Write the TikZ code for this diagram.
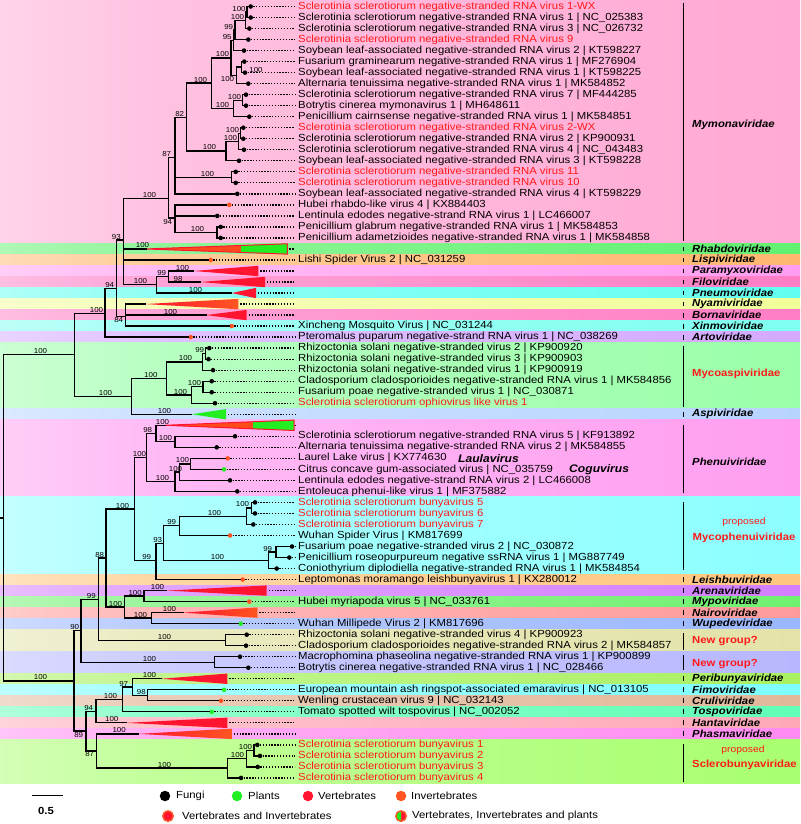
\documentclass[tikz,border=0pt]{standalone}
\usepackage{fontspec}
\setmainfont{Liberation Sans}[FakeStretch=1.1]
\usepackage{tikz}

\definecolor{vred}{HTML}{FF1530}
\definecolor{iorange}{HTML}{FF5522}
\definecolor{ired}{HTML}{FF4A1C}
\definecolor{pgreen}{HTML}{22EE22}
\definecolor{tred}{HTML}{FF1A1A}
% band colours
\definecolor{cMymo}{HTML}{FF99CC}
\definecolor{cRhab}{HTML}{44EE55}
\definecolor{cLisp}{HTML}{FFAA55}
\definecolor{cPara}{HTML}{FF8CEE}
\definecolor{cFilo}{HTML}{FF66BB}
\definecolor{cPneu}{HTML}{44FFEE}
\definecolor{cNyam}{HTML}{EEFF88}
\definecolor{cBorn}{HTML}{FF66BB}
\definecolor{cXinm}{HTML}{66FFEE}
\definecolor{cArto}{HTML}{CC99FF}
\definecolor{cMyas}{HTML}{88FF99}
\definecolor{cAspi}{HTML}{AACCFF}
\definecolor{cPhen}{HTML}{FF8CEE}
\definecolor{cMyph}{HTML}{77FFFF}
\definecolor{cLeis}{HTML}{FFBB66}
\definecolor{cAren}{HTML}{CC66FF}
\definecolor{cMypo}{HTML}{55EE55}
\definecolor{cNair}{HTML}{FF8888}
\definecolor{cWupe}{HTML}{88AAFF}
\definecolor{cNgA}{HTML}{DDDD99}
\definecolor{cNgB}{HTML}{AAAAFF}
\definecolor{cPeri}{HTML}{99EE44}
\definecolor{cFimo}{HTML}{66FFFF}
\definecolor{cCrul}{HTML}{DDAA88}
\definecolor{cTosp}{HTML}{44FFAA}
\definecolor{cHant}{HTML}{FF99AA}
\definecolor{cPhas}{HTML}{FF77EE}
\definecolor{cScle}{HTML}{99FF55}

\colorlet{bandcol}{white}
\pgfdeclarehorizontalshading[bandcol]{bandfade}{100bp}{color(0bp)=(white); color(35bp)=(bandcol!60!white); color(100bp)=(bandcol)}

\newcommand{\tipfont}{\fontsize{10.3}{11}\selectfont}
\newcommand{\bsfont}{\fontsize{7.2}{8}\selectfont}

\tikzset{
  br/.style={line width=1.3pt, line cap=rect},
  lead/.style={line width=1.3pt, dash pattern=on 1.3pt off 1.6pt, shorten >=3pt},
  dotf/.style={circle, inner sep=0pt, minimum size=4.6pt, fill=black},
  dotp/.style={dotf, fill=pgreen},
  doti/.style={dotf, fill=iorange},
  lbl/.style={anchor=west, inner sep=0pt, font=\tipfont},
  lblr/.style={lbl, text=tred},
  bs/.style={anchor=south east, inner sep=0.7pt, font=\bsfont},
  bsb/.style={anchor=north east, inner sep=0.7pt, font=\bsfont},
  fam/.style={anchor=west, inner sep=0pt, font=\tipfont\bfseries\itshape},
  famr/.style={anchor=west, inner sep=0pt, font=\tipfont\bfseries, text=tred},
  prop/.style={inner sep=0pt, font=\fontsize{9.4}{10}\selectfont, text=tred},
  bar/.style={line width=1.3pt},
  legdot/.style={circle, inner sep=0pt, minimum size=10.5pt},
}

% family band, tip with dot and label, collapsed clade
\newcommand{\band}[3]{\colorlet{bandcol}{#3}\shade[shading=bandfade] (0,#1) rectangle (800,#2);}
\newcommand{\tip}[6][lbl]{%
  \node[#5] (#2) at (#3,#4) {};
  \node[#1] (#2l) at (298,#4) {#6};
  \draw[lead] (#2) -- (#2l.west);}
\newcommand{\clade}[5]{%
  \coordinate (#1) at (#2,#4);
  \path[#5] (#1) -- (#3,#4-0.47) -- (#3,#4+0.47) -- cycle;
  \coordinate (#1e) at (#3,#4);
  \draw[lead, shorten <=2pt] (#1e) -- (298,#4);}

\begin{document}
\begin{tikzpicture}[x=1pt, y=-11.02pt]
\useasboundingbox (0,0.41) rectangle (800,75.18);
\fill[white] (0,0.41) rectangle (800,75.18);

% background bands
\band{0.41}{22.5}{cMymo}
\band{22.5}{23.5}{cRhab}
\band{23.5}{24.5}{cLisp}
\band{24.5}{25.5}{cPara}
\band{25.5}{26.5}{cFilo}
\band{26.5}{27.5}{cPneu}
\band{27.5}{28.5}{cNyam}
\band{28.5}{29.5}{cBorn}
\band{29.5}{30.5}{cXinm}
\band{30.5}{31.5}{cArto}
\band{31.5}{37.5}{cMyas}
\band{37.5}{38.5}{cAspi}
\band{38.5}{45.5}{cPhen}
\band{45.5}{52.5}{cMyph}
\band{52.5}{53.5}{cLeis}
\band{53.5}{54.5}{cAren}
\band{54.5}{55.5}{cMypo}
\band{55.5}{56.5}{cNair}
\band{56.5}{57.5}{cWupe}
\band{57.5}{59.5}{cNgA}
\band{59.5}{61.5}{cNgB}
\band{61.5}{62.5}{cPeri}
\band{62.5}{63.5}{cFimo}
\band{63.5}{64.5}{cCrul}
\band{64.5}{65.5}{cTosp}
\band{65.5}{66.5}{cHant}
\band{66.5}{67.5}{cPhas}
\band{67.5}{71.5}{cScle}

% tips
\tip[lblr]{t1}{250.7}{1}{dotf}{Sclerotinia sclerotiorum negative-stranded RNA virus 1-WX}
\tip{t2}{250.7}{2}{dotf}{Sclerotinia sclerotiorum negative-stranded RNA virus 1 | NC\_025383}
\tip{t3}{249.3}{3}{dotf}{Sclerotinia sclerotiorum negative-stranded RNA virus 3 | NC\_026732}
\tip[lblr]{t4}{248.3}{4}{dotf}{Sclerotinia sclerotiorum negative-stranded RNA virus 9}
\tip{t5}{244}{5}{dotf}{Soybean leaf-associated negative-stranded RNA virus 2 | KT598227}
\tip{t6}{244.3}{6}{dotf}{Fusarium graminearum negative-stranded RNA virus 1 | MF276904}
\tip{t7}{245}{7}{dotf}{Soybean leaf-associated negative-stranded RNA virus 1 | KT598225}
\tip{t8}{248.3}{8}{dotf}{Alternaria tenuissima negative-stranded RNA virus 1 | MK584852}
\tip{t9}{246}{9}{dotf}{Sclerotinia sclerotiorum negative-stranded RNA virus 7 | MF444285}
\tip{t10}{246}{10}{dotf}{Botrytis cinerea mymonavirus 1 | MH648611}
\tip{t11}{249.3}{11}{dotf}{Penicillium cairnsense negative-stranded RNA virus 1 | MK584851}
\tip[lblr]{t12}{243.3}{12}{dotf}{Sclerotinia sclerotiorum negative-stranded RNA virus 2-WX}
\tip{t13}{243.3}{13}{dotf}{Sclerotinia sclerotiorum negative-stranded RNA virus 2 | KP900931}
\tip{t14}{244}{14}{dotf}{Sclerotinia sclerotiorum negative-stranded RNA virus 4 | NC\_043483}
\tip{t15}{239}{15}{dotf}{Soybean leaf-associated negative-stranded RNA virus 3 | KT598228}
\tip[lblr]{t16}{235.7}{16}{dotf}{Sclerotinia sclerotiorum negative-stranded RNA virus 11}
\tip[lblr]{t17}{235.7}{17}{dotf}{Sclerotinia sclerotiorum negative-stranded RNA virus 10}
\tip{t18}{237.3}{18}{dotf}{Soybean leaf-associated negative-stranded RNA virus 4 | KT598229}
\tip{t19}{229.3}{19}{doti}{Hubei rhabdo-like virus 4 | KX884403}
\tip{t20}{217.3}{20}{dotf}{Lentinula edodes negative-strand RNA virus 1 | LC466007}
\tip{t21}{220.7}{21}{dotf}{Penicillium glabrum negative-stranded RNA virus 1 | MK584853}
\tip{t22}{220.7}{22}{dotf}{Penicillium adametzioides negative-stranded RNA virus 1 | MK584858}
\tip{t24}{210.7}{24}{doti}{Lishi Spider Virus 2 | NC\_031259}
\tip{t30}{231.7}{30}{doti}{Xincheng Mosquito Virus | NC\_031244}
\tip{t31}{190.7}{31}{doti}{Pteromalus puparum negative-strand RNA virus 1 | NC\_038269}
\tip{t32}{209.3}{32}{dotf}{Rhizoctonia solani negative-stranded virus 2 | KP900920}
\tip{t33}{208.5}{33}{dotf}{Rhizoctonia solani negative-stranded virus 3 | KP900903}
\tip{t34}{213}{34}{dotf}{Rhizoctonia solani negative-stranded virus 1 | KP900919}
\tip{t35}{211.7}{35}{dotf}{Cladosporium cladosporioides negative-stranded RNA virus 1 | MK584856}
\tip{t36}{211.7}{36}{dotf}{Fusarium poae negative-stranded virus 1 | NC\_030871}
\tip[lblr]{t37}{215}{37}{dotf}{Sclerotinia sclerotiorum ophiovirus like virus 1}
\tip{t40}{235}{40}{dotf}{Sclerotinia sclerotiorum negative-stranded RNA virus 5 | KF913892}
\tip{t41}{216.7}{41}{dotf}{Alternaria tenuissima negative-stranded RNA virus 2 | MK584855}
\tip{t42}{227.7}{42}{doti}{Laurel Lake virus | KX774630}
\tip{t43}{224}{43}{dotp}{Citrus concave gum-associated virus | NC\_035759}
\tip{t44}{230}{44}{dotf}{Lentinula edodes negative-strand RNA virus 2 | LC466008}
\tip{t45}{237.3}{45}{dotf}{Entoleuca phenui-like virus 1 | MF375882}
\tip[lblr]{t46}{255}{46}{dotf}{Sclerotinia sclerotiorum bunyavirus 5}
\tip[lblr]{t47}{255}{47}{dotf}{Sclerotinia sclerotiorum bunyavirus 6}
\tip[lblr]{t48}{253.3}{48}{dotf}{Sclerotinia sclerotiorum bunyavirus 7}
\tip{t49}{230}{49}{doti}{Wuhan Spider Virus | KM817699}
\tip{t50}{292}{50}{dotf}{Fusarium poae negative-stranded virus 2 | NC\_030872}
\tip{t51}{289.3}{51}{dotf}{Penicillium roseopurpureum negative ssRNA virus 1 | MG887749}
\tip{t52}{276.7}{52}{dotf}{Coniothyrium diplodiella negative-stranded RNA virus 1 | MK584854}
\tip{t53}{242.7}{53}{doti}{Leptomonas moramango leishbunyavirus 1 | KX280012}
\tip{t55}{249.3}{55}{doti}{Hubei myriapoda virus 5 | NC\_033761}
\tip{t57}{240.7}{57}{dotp}{Wuhan Millipede Virus 2 | KM817696}
\tip{t58}{246.7}{58}{dotf}{Rhizoctonia solani negative-stranded virus 4 | KP900923}
\tip{t59}{246}{59}{dotf}{Cladosporium cladosporioides negative-stranded RNA virus 2 | MK584857}
\tip{t60}{240}{60}{dotf}{Macrophomina phaseolina negative-stranded RNA virus 1 | KP900899}
\tip{t61}{248.3}{61}{dotf}{Botrytis cinerea negative-stranded RNA virus 1 | NC\_028466}
\tip{t63}{224}{63}{dotp}{European mountain ash ringspot-associated emaravirus | NC\_013105}
\tip{t64}{221}{64}{doti}{Wenling crustacean virus 9 | NC\_032143}
\tip{t65}{211.7}{65}{dotp}{Tomato spotted wilt tospovirus | NC\_002052}
\tip[lblr]{t68}{257.3}{68}{dotf}{Sclerotinia sclerotiorum bunyavirus 1}
\tip[lblr]{t69}{260}{69}{dotf}{Sclerotinia sclerotiorum bunyavirus 2}
\tip[lblr]{t70}{257.7}{70}{dotf}{Sclerotinia sclerotiorum bunyavirus 3}
\tip[lblr]{t71}{241}{71}{dotf}{Sclerotinia sclerotiorum bunyavirus 4}

\node[fam, font=\fontsize{11}{12}\selectfont\bfseries\itshape] (laula) at (458,42) {Laulavirus};
\node[fam, font=\fontsize{11}{12}\selectfont\bfseries\itshape] (cogu) at (569,43) {Coguvirus};

% collapsed clades
\clade{rhab}{146}{287.3}{23}{fill=ired}
\begin{scope}
\clip (241,22) rectangle (290,24);
\fill[pgreen] (rhab) -- (287.3,22.53) -- (287.3,23.47) -- cycle;
\end{scope}
\draw[vred, line width=1pt] (rhab) -- (287.3,22.53) -- (287.3,23.47) -- cycle;
\clade{pmyx}{193.3}{258.3}{25}{fill=vred}
\clade{filo}{200}{265}{26}{fill=vred}
\clade{pneu}{231.7}{256}{27}{fill=vred}
\clade{nyam}{145}{238.3}{28}{left color=vred, right color=iorange}
\clade{born}{206}{246.7}{29}{fill=vred}
\clade{aspi}{191.7}{226}{38}{fill=pgreen}
\clade{phen}{165}{294}{39}{fill=ired}
\begin{scope}
\clip (253,38) rectangle (297,40);
\fill[pgreen] (phen) -- (294,38.53) -- (294,39.47) -- cycle;
\end{scope}
\draw[vred, line width=1pt] (phen) -- (294,38.53) -- (294,39.47) -- cycle;
\clade{aren}{166.7}{266.7}{54}{fill=vred}
\clade{nair}{183.3}{257.3}{56}{left color=vred, right color=iorange}
\clade{peri}{161}{227.3}{62}{fill=vred}
\clade{hant}{126}{227.3}{66}{fill=vred}
\clade{phas}{138.3}{231.7}{67}{left color=vred, right color=iorange}

% internal nodes
\coordinate (rootL) at (0,47.4);
\coordinate (root) at (3.3,47.4);
\coordinate (A) at (74.3,32.6);
\coordinate (B) at (74,62.2);
\coordinate (C) at (105,28.85);
\coordinate (B94) at (116.7,26.6);
\coordinate (A93) at (123.3,22.2);
\coordinate (j) at (168.3,18.4);
\coordinate (h) at (175,14.7);
\coordinate (g) at (186.7,11.04);
\coordinate (e) at (211.7,7.95);
\coordinate (c) at (231,5.66);
\coordinate (a5) at (233.3,4.06);
\coordinate (a4) at (235,3.13);
\coordinate (a3) at (245.5,2.25);
\coordinate (a2) at (247,1.5);
\coordinate (b) at (236.7,7.25);
\coordinate (a67) at (241.5,6.5);
\coordinate (d) at (233.3,10.25);
\coordinate (d1) at (242.5,9.5);
\coordinate (f) at (226,14.1);
\coordinate (f2) at (238.5,13.25);
\coordinate (f1) at (240.3,12.5);
\coordinate (i) at (231.7,16.5);
\coordinate (k) at (175,20.2);
\coordinate (l) at (217,21.5);
\coordinate (P) at (156.7,26.25);
\coordinate (P99) at (168.3,25.5);
\coordinate (N84) at (125.7,29.1);
\coordinate (D) at (131.7,36.4);
\coordinate (Myco) at (166.7,34.75);
\coordinate (Rh) at (202.3,33.25);
\coordinate (Rh23) at (205.5,32.5);
\coordinate (Fu) at (191.7,36.25);
\coordinate (CF) at (203,35.5);
\coordinate (n90) at (81,57.65);
\coordinate (n99b) at (98.3,54.8);
\coordinate (n88) at (106,51.05);
\coordinate (PM) at (134.3,46.6);
\coordinate (Ph) at (146.7,41.9);
\coordinate (n98) at (156,39.75);
\coordinate (SA) at (175,40.5);
\coordinate (Ph2) at (175,44.1);
\coordinate (LL) at (179.3,43.25);
\coordinate (L) at (190.7,42.5);
\coordinate (n99c) at (156,51.3);
\coordinate (n93b) at (163.3,49.7);
\coordinate (n99d) at (179.3,48.1);
\coordinate (S567) at (246.7,47.25);
\coordinate (S56) at (251.5,46.5);
\coordinate (F) at (268.3,51.25);
\coordinate (F2) at (276,50.5);
\coordinate (AN) at (124.3,55.5);
\coordinate (Ar) at (144,54.5);
\coordinate (Na) at (151.7,56.5);
\coordinate (NG1) at (225.7,58.5);
\coordinate (NG2) at (214.3,60.5);
\coordinate (n89) at (86,66.75);
\coordinate (n94b) at (96,64.95);
\coordinate (PFC) at (122.7,63.9);
\coordinate (n97) at (132.7,62.75);
\coordinate (n98c) at (147.7,63.5);
\coordinate (n87) at (96.7,68.55);
\coordinate (Scl) at (227.7,70.1);
\coordinate (S123) at (246.7,69.25);
\coordinate (S12) at (254,68.5);

% branches
\draw[br] (rootL) -- (root) (root) |- (A) (root) |- (B);
\draw[br] (A) |- (C) (A) |- (D);
\draw[br] (C) |- (B94) (C) |- (t31);
\draw[br] (B94) |- (A93) (B94) |- (N84);
\draw[br] (A93) |- (j) (A93) |- (rhab) (A93) |- (t24) (A93) |- (P);
\draw[br] (j) |- (h) (j) |- (k);
\draw[br] (h) |- (g) (h) |- (i) (h) |- (t18);
\draw[br] (g) |- (e) (g) |- (f);
\draw[br] (e) |- (c) (e) |- (d);
\draw[br] (c) |- (a5) (c) |- (b);
\draw[br] (a5) |- (a4) (a5) |- (t5);
\draw[br] (a4) |- (a3) (a4) |- (t4);
\draw[br] (a3) |- (a2) (a3) |- (t3);
\draw[br] (a2) |- (t1) (a2) |- (t2);
\draw[br] (b) |- (a67) (b) |- (t8);
\draw[br] (a67) |- (t6) (a67) |- (t7);
\draw[br] (d) |- (d1) (d) |- (t11);
\draw[br] (d1) |- (t9) (d1) |- (t10);
\draw[br] (f) |- (f2) (f) |- (t15);
\draw[br] (f2) |- (f1) (f2) |- (t14);
\draw[br] (f1) |- (t12) (f1) |- (t13);
\draw[br] (i) |- (t16) (i) |- (t17);
\draw[br] (k) |- (t19) (k) |- (t20) (k) |- (l);
\draw[br] (l) |- (t21) (l) |- (t22);
\draw[br] (P) |- (P99) (P) |- (pneu);
\draw[br] (P99) |- (pmyx) (P99) |- (filo);
\draw[br] (N84) |- (nyam) (N84) |- (born) (N84) |- (t30);
\draw[br] (D) |- (Myco) (D) |- (aspi);
\draw[br] (Myco) |- (Rh) (Myco) |- (Fu);
\draw[br] (Rh) |- (Rh23) (Rh) |- (t34);
\draw[br] (Rh23) |- (t32) (Rh23) |- (t33);
\draw[br] (Fu) |- (CF) (Fu) |- (t37);
\draw[br] (CF) |- (t35) (CF) |- (t36);
\draw[br] (B) |- (n90) (B) |- (n89);
\draw[br] (n90) |- (n99b) (n90) |- (NG2);
\draw[br] (n99b) |- (n88) (n99b) |- (NG1);
\draw[br] (n88) |- (PM) (n88) |- (AN);
\draw[br] (PM) |- (Ph) (PM) |- (n99c);
\draw[br] (Ph) |- (n98) (Ph) |- (Ph2);
\draw[br] (n98) |- (phen) (n98) |- (SA);
\draw[br] (SA) |- (t40) (SA) |- (t41);
\draw[br] (Ph2) |- (LL) (Ph2) |- (t45);
\draw[br] (LL) |- (L) (LL) |- (t44);
\draw[br] (L) |- (t42) (L) |- (t43);
\draw[br] (n99c) |- (n93b) (n99c) |- (t53);
\draw[br] (n93b) |- (n99d) (n93b) |- (F);
\draw[br] (n99d) |- (S567) (n99d) |- (t49);
\draw[br] (S567) |- (S56) (S567) |- (t48);
\draw[br] (S56) |- (t46) (S56) |- (t47);
\draw[br] (F) |- (F2) (F) |- (t52);
\draw[br] (F2) |- (t50) (F2) |- (t51);
\draw[br] (AN) |- (Ar) (AN) |- (Na);
\draw[br] (Ar) |- (aren) (Ar) |- (t55);
\draw[br] (Na) |- (nair) (Na) |- (t57);
\draw[br] (NG1) |- (t58) (NG1) |- (t59);
\draw[br] (NG2) |- (t60) (NG2) |- (t61);
\draw[br] (n89) |- (n94b) (n89) |- (n87);
\draw[br] (n94b) |- (PFC) (n94b) |- (hant);
\draw[br] (PFC) |- (n97) (PFC) |- (t65);
\draw[br] (n97) |- (peri) (n97) |- (n98c);
\draw[br] (n98c) |- (t63) (n98c) |- (t64);
\draw[br] (n87) |- (phas) (n87) |- (Scl);
\draw[br] (Scl) |- (S123) (Scl) |- (t71);
\draw[br] (S123) |- (S12) (S123) |- (t70);
\draw[br] (S12) |- (t68) (S12) |- (t69);

% bootstrap values
\node[bs] (s-A) at (48,32.6) {100};
\node[bs] (s-B) at (48,62.2) {100};
\node[bs] (s-C) at (104,28.85) {100};
\node[bs] (s-B94) at (115,26.6) {94};
\node[bs] (s-A93) at (121.7,22.2) {93};
\node[bs] (s-j) at (157,18.4) {100};
\node[bs] (s-h) at (172,14.7) {87};
\node[bs] (s-g) at (185,11.04) {82};
\node[bs] (s-e) at (208,7.95) {100};
\node[bs] (s-c) at (230,5.66) {100};
\node[bs] (s-a5) at (232.5,4.06) {95};
\node[bs] (s-a4) at (234,3.13) {99};
\node[bs] (s-a3) at (245,2.25) {100};
\node[bs] (s-a2) at (246.5,1.5) {100};
\node[bsb] (s-b) at (235,7.25) {100};
\node[bs, anchor=west] (s-a67) at (248.5,6.8) {100};
\node[bs] (s-d) at (230,10.25) {100};
\node[bs] (s-d1) at (242,9.5) {100};
\node[bs] (s-f) at (217,14.1) {100};
\node[bs] (s-f2) at (238,13.25) {100};
\node[bs] (s-f1) at (240,12.5) {100};
\node[bs] (s-i) at (215,16.5) {100};
\node[bsb] (s-k) at (173,20.2) {94};
\node[bs] (s-l) at (205,21.5) {100};
\node[bs] (s-P) at (148,26.25) {100};
\node[bs] (s-P99) at (167,25.5) {99};
\node[bsb] (s-N84) at (124,29.1) {84};
\node[bs] (s-D) at (113,36.4) {100};
\node[bs] (s-Myco) at (158.3,34.75) {100};
\node[bs] (s-Rh) at (193,33.25) {100};
\node[bs] (s-Rh23) at (205,32.5) {99};
\node[bs] (s-Fu) at (188,36.25) {100};
\node[bs] (s-CF) at (202,35.5) {100};
\node[bs] (s-PM) at (130,46.6) {100};
\node[bs] (s-Ph) at (147,41.9) {100};
\node[bs] (s-n98) at (153,39.75) {98};
\node[bs] (s-SA) at (173,40.5) {100};
\node[bs] (s-Ph2) at (170,44.1) {100};
\node[bs] (s-LL) at (183,43.25) {100};
\node[bs] (s-L) at (190,42.5) {100};
\node[bs] (s-n99c) at (152,51.3) {99};
\node[bs] (s-n93b) at (163,49.7) {93};
\node[bs] (s-n99d) at (177,48.1) {99};
\node[bs] (s-S567) at (222,47.25) {100};
\node[bs] (s-S56) at (250,46.5) {100};
\node[bs] (s-F) at (225,51.25) {100};
\node[bs] (s-F2) at (273,50.5) {99};
\node[bs] (s-AN) at (123,55.5) {100};
\node[bs] (s-Ar) at (142.7,54.5) {100};
\node[bs] (s-Na) at (148,56.5) {100};
\node[bs] (s-NG1) at (172,58.5) {100};
\node[bs] (s-NG2) at (157,60.5) {100};
\node[bs] (s-n90) at (80,57.65) {90};
\node[bs] (s-n99b) at (96.7,54.8) {99};
\node[bs] (s-n88) at (105,51.05) {88};
\node[bsb] (s-n89) at (84,66.75) {89};
\node[bs] (s-n94b) at (94,64.95) {94};
\node[bs] (s-PFC) at (118,63.9) {100};
\node[bs] (s-n97) at (129,62.75) {97};
\node[bs] (s-n98c) at (146.7,63.5) {98};
\node[bsb] (s-n87) at (95,68.55) {87};
\node[bs] (s-Scl) at (172,70.1) {100};
\node[bs] (s-S123) at (245,69.25) {100};
\node[bs] (s-S12) at (253,68.5) {100};
\node[bs] (s-rhab) at (150,23) {100};
\node[bs] (s-pmyx) at (190,25) {100};
\node[bs] (s-filo) at (183.3,26) {98};
\node[bs] (s-pneu) at (203,27) {100};
\node[bs] (s-born) at (178,29) {100};
\node[bs] (s-aspi) at (172,38) {100};
\node[bs] (s-phen) at (170,39) {100};
\node[bs] (s-aren) at (165,54) {100};
\node[bs] (s-nair) at (177,56) {100};
\node[bs] (s-peri) at (157,62) {100};
\node[bs] (s-hant) at (119.3,66) {100};
\node[bs] (s-phas) at (126.7,67) {100};

% families
\draw[bar] (683.3,0.7) -- (683.3,22.3);
\node[fam] (fMymo) at (692,11.7) {Mymonaviridae};
\draw[bar] (683.3,22.78) -- (683.3,23.22);
\node[fam] (fRhab) at (692,23) {Rhabdoviridae};
\draw[bar] (683.3,23.78) -- (683.3,24.22);
\node[fam] (fLisp) at (692,24) {Lispiviridae};
\draw[bar] (683.3,24.78) -- (683.3,25.22);
\node[fam] (fPara) at (692,25) {Paramyxoviridae};
\draw[bar] (683.3,25.78) -- (683.3,26.22);
\node[fam] (fFilo) at (692,26) {Filoviridae};
\draw[bar] (683.3,26.78) -- (683.3,27.22);
\node[fam] (fPneu) at (692,27) {Pneumoviridae};
\draw[bar] (683.3,27.78) -- (683.3,28.22);
\node[fam] (fNyam) at (692,28) {Nyamiviridae};
\draw[bar] (683.3,28.78) -- (683.3,29.22);
\node[fam] (fBorn) at (692,29) {Bornaviridae};
\draw[bar] (683.3,29.78) -- (683.3,30.22);
\node[fam] (fXinm) at (692,30) {Xinmoviridae};
\draw[bar] (683.3,30.78) -- (683.3,31.22);
\node[fam] (fArto) at (692,31) {Artoviridae};
\draw[bar] (683.3,31.8) -- (683.3,37.35);
\node[famr] (fMyas) at (692,34.3) {Mycoaspiviridae};
\draw[bar] (683.3,37.78) -- (683.3,38.22);
\node[fam] (fAspi) at (692,38) {Aspiviridae};
\draw[bar] (683.3,38.98) -- (683.3,45.1);
\node[fam] (fPhen) at (692,42.3) {Phenuiviridae};
\draw[bar] (683.3,45.94) -- (683.3,52.14);
\node[prop] (pMyph) at (744,47.75) {proposed};
\node[famr, anchor=center] (fMyph) at (744,49.2) {Mycophenuiviridae};
\draw[bar] (683.3,52.78) -- (683.3,53.22);
\node[fam] (fLeis) at (692,53) {Leishbuviridae};
\draw[bar] (683.3,53.78) -- (683.3,54.22);
\node[fam] (fAren) at (692,54) {Arenaviridae};
\draw[bar] (683.3,54.78) -- (683.3,55.22);
\node[fam] (fMypo) at (692,55) {Mypoviridae};
\draw[bar] (683.3,55.78) -- (683.3,56.22);
\node[fam] (fNair) at (692,56) {Nairoviridae};
\draw[bar] (683.3,56.78) -- (683.3,57.22);
\node[fam] (fWupe) at (692,57) {Wupedeviridae};
\draw[bar] (683.3,57.85) -- (683.3,59.4);
\node[famr] (fNgA) at (692,58.55) {New group?};
\draw[bar] (683.3,59.85) -- (683.3,61.2);
\node[famr] (fNgB) at (692,60.66) {New group?};
\draw[bar] (683.3,61.78) -- (683.3,62.22);
\node[fam] (fPeri) at (692,62) {Peribunyaviridae};
\draw[bar] (683.3,62.78) -- (683.3,63.22);
\node[fam] (fFimo) at (692,63) {Fimoviridae};
\draw[bar] (683.3,63.78) -- (683.3,64.22);
\node[fam] (fCrul) at (692,64) {Cruliviridae};
\draw[bar] (683.3,64.78) -- (683.3,65.22);
\node[fam] (fTosp) at (692,65) {Tospoviridae};
\draw[bar] (683.3,65.78) -- (683.3,66.22);
\node[fam] (fHant) at (692,66) {Hantaviridae};
\draw[bar] (683.3,66.78) -- (683.3,67.22);
\node[fam] (fPhas) at (692,67) {Phasmaviridae};
\draw[bar] (683.3,67.9) -- (683.3,71.35);
\node[prop] (pScle) at (743,68.5) {proposed};
\node[famr] (fScle) at (692,69.8) {Sclerobunyaviridae};

% legend
\draw[br] (33,72.6) -- (62,72.6);
\node[font=\tipfont\bfseries, inner sep=0pt] (sc) at (46,73.95) {0.5};
\node[legdot, fill=black] (lgF) at (165,72.64) {};
\node[lbl] (lgFt) at (176,72.64) {Fungi};
\node[legdot, fill=pgreen] (lgP) at (237,72.64) {};
\node[lbl] (lgPt) at (248,72.64) {Plants};
\node[legdot, fill=vred] (lgV) at (308,72.64) {};
\node[lbl] (lgVt) at (318,72.64) {Vertebrates};
\node[legdot, fill=iorange] (lgI) at (401,72.64) {};
\node[lbl] (lgIt) at (411,72.64) {Invertebrates};
\node[legdot, fill=vred, draw=iorange, line width=1.4pt] (lgVI) at (168,74.46) {};
\node[lbl] (lgVIt) at (182,74.46) {Vertebrates and Invertebrates};
\node[legdot, fill=vred, draw=iorange, line width=1.4pt] (lgVIP) at (401,74.46) {};
\fill[pgreen] (lgVIP.center) ++(90:4.4pt) arc[start angle=90, end angle=270, radius=4.4pt] -- cycle;
\node[lbl] (lgVIPt) at (412,74.46) {Vertebrates, Invertebrates and plants};
\end{tikzpicture}
\end{document}
